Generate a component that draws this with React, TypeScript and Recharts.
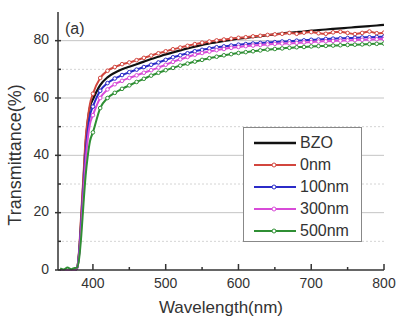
import { LineChart, Line, XAxis, YAxis, ReferenceLine } from "recharts";

const wavelengths = [
  355, 360, 365, 370, 375, 378, 381, 384, 387, 390, 393, 396,
  400, 410, 420, 430, 440, 450, 460, 470, 480, 490, 500, 510, 520, 530, 540, 550, 560, 570, 580, 590, 600,
  610, 620, 630, 640, 650, 660, 670, 680, 690, 700, 710, 720, 730, 740, 750, 760, 770, 780, 790, 800,
];

const bzo = [
  0, 0, 0, 0, 0, 0.5, 6, 18, 31, 44, 52, 57,
  59.5, 64.5, 67.2, 68.8, 70, 70.9, 71.8, 72.7, 73.6, 74.4, 75.2, 75.9, 76.6, 77.3, 77.9, 78.5, 79, 79.5, 79.9, 80.3, 80.7,
  81, 81.3, 81.6, 81.9, 82.2, 82.5, 82.8, 83, 83.2, 83.5, 83.7, 83.9, 84.1, 84.3, 84.5, 84.7, 84.9, 85.1, 85.3, 85.5,
];
const nm0 = [
  0, 0, 0, 0, 0, 0.5, 7, 20, 33, 46, 53, 58,
  61.5, 67, 69.5, 70.8, 71.8, 72.4, 73.2, 74, 74.8, 75.6, 76.3, 77, 77.6, 78.2, 78.8, 79.3, 79.7, 80.1, 80.4, 80.7, 81,
  81.2, 81.5, 81.7, 82, 82.2, 82.4, 82.7, 82.4, 82.8, 83, 82.6, 82.4, 82.9, 83.1, 82.7, 82.3, 82.7, 83.2, 82.6, 82.8,
];
const nm100 = [
  0, 0, 0, 0, 0, 0.5, 6, 17, 29, 41, 49, 54,
  57, 62.5, 65.2, 66.8, 68, 69, 69.9, 70.8, 71.6, 72.4, 73.3, 74.2, 74.9, 75.6, 76.3, 76.8, 77.3, 77.7, 78, 78.3, 78.6,
  78.8, 79, 79.2, 79.4, 79.5, 79.7, 79.8, 80, 80.1, 80.3, 80.4, 80.6, 80.7, 80.8, 80.9, 81, 81.1, 81.2, 81.3, 81.4,
];
const nm300 = [
  0, 0, 0, 0, 0, 0.5, 5, 15, 27, 38, 46, 51,
  54, 60, 63, 64.8, 66, 67, 67.9, 68.8, 69.7, 70.6, 71.6, 72.6, 73.5, 74.3, 75.1, 75.7, 76.2, 76.7, 77.1, 77.5, 77.8,
  78.1, 78.3, 78.5, 78.7, 78.9, 79, 79.1, 79.2, 79.4, 79.5, 79.7, 79.8, 79.9, 80, 80.1, 80.2, 80.3, 80.4, 80.5, 80.6,
];
const nm500 = [
  0.6, 0.2, 0.9, 0.3, 0.7, 0.8, 4, 12, 23, 33, 40, 45,
  48, 56.5, 60, 61.8, 63.2, 64.4, 65.6, 66.7, 67.8, 68.8, 69.7, 70.5, 71.3, 72, 72.7, 73.3, 73.9, 74.4, 74.9, 75.3, 75.7,
  76, 76.3, 76.6, 76.9, 77.1, 77.3, 77.5, 77.7, 77.8, 78, 78.1, 78.2, 78.3, 78.4, 78.5, 78.6, 78.7, 78.8, 78.9, 79,
];

const xTicks = [400, 450, 500, 550, 600, 650, 700, 750, 800];
const yTicks = [0, 10, 20, 30, 40, 50, 60, 70, 80];
const solidGrid = [20, 40, 60, 80];
const dottedGrid = [10, 30, 50, 70];

const series = [
  { key: "bzo", name: "BZO", color: "#111111", marker: false },
  { key: "nm0", name: "0nm", color: "#d2463e", marker: true },
  { key: "nm100", name: "100nm", color: "#2b2bc8", marker: true },
  { key: "nm300", name: "300nm", color: "#d84bd8", marker: true },
  { key: "nm500", name: "500nm", color: "#2f8f34", marker: true },
];

const data = wavelengths.map((w, i) => ({
  w,
  bzo: bzo[i],
  nm0: nm0[i],
  nm100: nm100[i],
  nm300: nm300[i],
  nm500: nm500[i],
}));

const font = "Arial, 'Liberation Sans', sans-serif";
const axisColor = "#333";

const BottomTick = (p: any) => {
  const major = p.payload.value % 100 === 0;
  return (
    <g>
      <line x1={p.x} x2={p.x} y1={p.y} y2={p.y - (major ? 6 : 3)} stroke={axisColor} strokeWidth={1.5} />
      {major && (
        <text x={p.x} y={p.y + 14} textAnchor="middle" fontSize={14} fill="#333" fontFamily={font} dominantBaseline="middle">
          {p.payload.value}
        </text>
      )}
    </g>
  );
};

const TopTick = (p: any) => {
  return <line x1={p.x} x2={p.x} y1={p.y} y2={p.y + 5} stroke={axisColor} strokeWidth={1.5} />;
};

const LeftTick = (p: any) => {
  const major = p.payload.value % 20 === 0;
  return (
    <g>
      <line x1={p.x - (major ? 3 : 0)} x2={p.x + 3} y1={p.y} y2={p.y} stroke={axisColor} strokeWidth={1.5} />
      {major && (
        <text x={p.x - 9} y={p.y} textAnchor="end" fontSize={14} fill="#333" fontFamily={font} dominantBaseline="middle">
          {p.payload.value}
        </text>
      )}
    </g>
  );
};

const RightTick = (p: any) => {
  return <line x1={p.x} x2={p.x - 4} y1={p.y} y2={p.y} stroke={axisColor} strokeWidth={1.5} />;
};

const makeDot = (color: string) => (p: any) => {
  const w = p.payload.w;
  if (w < 400 || w % 10 !== 0) return <g key={p.index} />;
  return <circle key={p.index} cx={p.cx} cy={p.cy} r={1.8} fill="#fff" stroke={color} strokeWidth={1} />;
};

const legendRows = [143, 165, 187, 209, 231];

function LegendBox() {
  return (
    <div
      style={{
        position: "absolute",
        left: 243,
        top: 127,
        width: 117,
        height: 113,
        border: "1px solid #888",
        background: "#fff",
        fontFamily: font,
        fontSize: 16,
        color: "#333",
      }}
    >
      {series.map((s, i) => (
        <div
          key={s.key}
          style={{ position: "absolute", left: 0, top: legendRows[i] - 128 - 11, height: 22, display: "flex", alignItems: "center" }}
        >
          <svg width={56} height={22}>
            <line x1={10} x2={52} y1={11} y2={11} stroke={s.color} strokeWidth={s.marker ? 2 : 2.5} />
            {s.marker && <circle cx={30} cy={11} r={2} fill="#fff" stroke={s.color} strokeWidth={1} />}
          </svg>
          <span>{s.name}</span>
        </div>
      ))}
    </div>
  );
}

export default function App() {
  return (
    <div style={{ position: "absolute", left: 0, top: 0, width: 401, height: 320, background: "#fff" }}>
      <LineChart width={401} height={320} data={data} margin={{ top: 12, right: 17, bottom: 0, left: 0 }}>
        {dottedGrid.map((v) => (
          <ReferenceLine key={"d" + v} y={v} stroke="#d4d4d4" strokeDasharray="2 2" strokeWidth={1} />
        ))}
        {solidGrid.map((v) => (
          <ReferenceLine key={"s" + v} y={v} stroke="#c4c4c4" strokeWidth={1} />
        ))}
        <XAxis
          dataKey="w"
          type="number"
          domain={[352, 800]}
          ticks={xTicks}
          interval={0}
          allowDataOverflow
          height={50}
          tickSize={0}
          tickMargin={0}
          tick={BottomTick}
          axisLine={{ stroke: axisColor, strokeWidth: 1.5 }}
          label={{ value: "Wavelength(nm)", position: "insideBottom", offset: 7, fontSize: 17, fill: "#333", fontFamily: font }}
        />
        <XAxis
          xAxisId="top"
          orientation="top"
          dataKey="w"
          type="number"
          domain={[352, 800]}
          ticks={xTicks}
          interval={0}
          allowDataOverflow
          height={0}
          tickSize={0}
          tickMargin={0}
          tick={TopTick}
          axisLine={{ stroke: axisColor, strokeWidth: 1.5 }}
        />
        <YAxis
          type="number"
          domain={[0, 90]}
          ticks={yTicks}
          interval={0}
          width={58}
          tickSize={0}
          tickMargin={0}
          tick={LeftTick}
          axisLine={{ stroke: axisColor, strokeWidth: 1.5 }}
        />
        <YAxis
          yAxisId="right"
          orientation="right"
          type="number"
          domain={[0, 90]}
          ticks={yTicks}
          interval={0}
          width={0}
          tickSize={0}
          tickMargin={0}
          tick={RightTick}
          axisLine={{ stroke: axisColor, strokeWidth: 1.5 }}
        />
        {series.map((s) => (
          <Line
            key={s.key}
            dataKey={s.key}
            type="monotone"
            stroke={s.color}
            strokeWidth={s.marker ? 2 : 2.2}
            dot={s.marker ? makeDot(s.color) : false}
            isAnimationActive={false}
          />
        ))}
        <text x={65} y={30} fontSize={16} fill="#333" fontFamily={font} dominantBaseline="middle">
          (a)
        </text>
        <text
          x={16}
          y={155}
          transform="rotate(-90 16 155)"
          textAnchor="middle"
          dominantBaseline="middle"
          fontSize={18}
          fill="#333"
          fontFamily={font}
        >
          Transmittance(%)
        </text>
      </LineChart>
      <LegendBox />
    </div>
  );
}
